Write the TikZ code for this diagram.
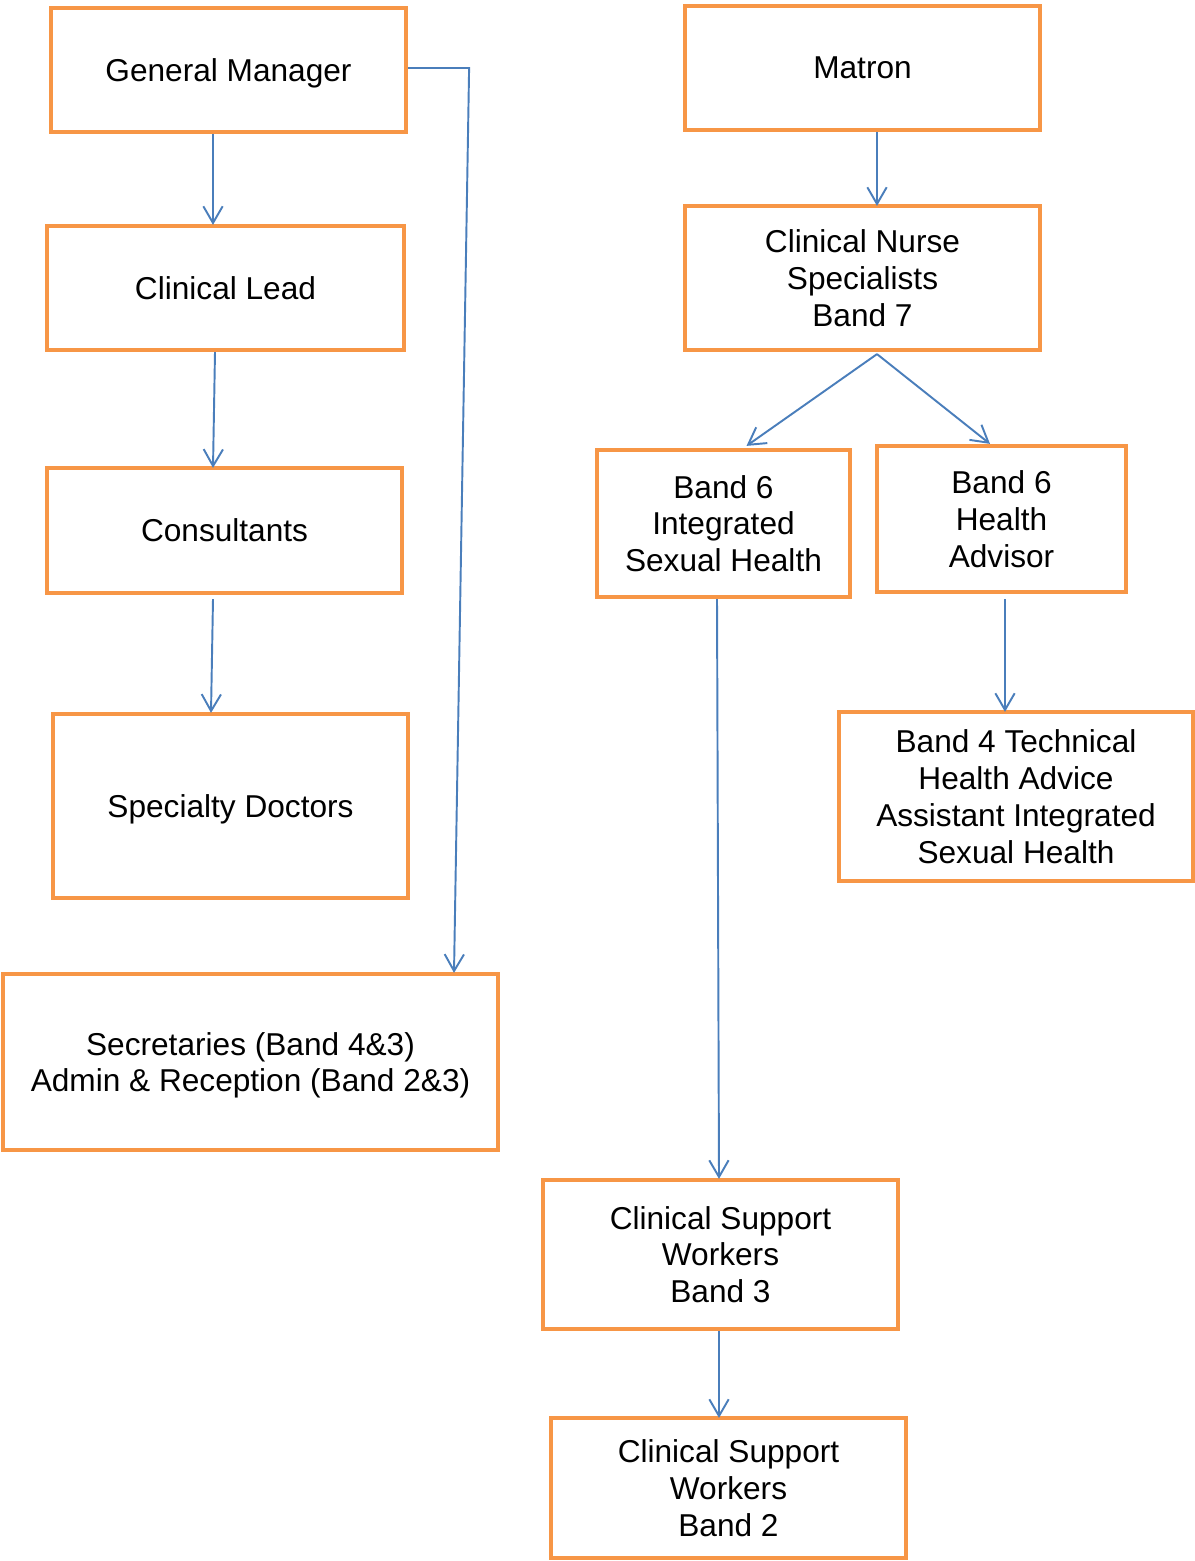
\documentclass[tikz,border=0pt]{standalone}
\usepackage{fontspec}
\setmainfont{Liberation Sans}
\usetikzlibrary{arrows.meta,calc}

\definecolor{boxorange}{HTML}{F79646}
\definecolor{linkblue}{HTML}{4A7EBB}

\tikzset{
  post/.style={draw=boxorange, line width=2.4pt, fill=white, align=center,
    inner sep=2pt, text depth=0pt, font=\fontsize{18}{21}\selectfont},
  link/.style={draw=linkblue, line width=1.1pt,
    -{Straight Barb[length=9.5pt,width=11pt,line width=1.1pt]}}
}

\begin{document}
\begin{tikzpicture}[x=0.02cm,y=-0.02cm]

\useasboundingbox (0,0) rectangle (1195,1561);

% Colonne de gauche
\node[post, minimum width=355*0.02cm, minimum height=124*0.02cm] (gm) at (228.5,70) {General Manager};
\node[post, minimum width=357*0.02cm, minimum height=124*0.02cm] (lead) at (225.5,288) {Clinical Lead};
\node[post, minimum width=355*0.02cm, minimum height=125*0.02cm] (cons) at (224.5,530.5) {Consultants};
\node[post, minimum width=355*0.02cm, minimum height=184*0.02cm] (docs) at (230.5,806) {Specialty Doctors};
\node[post, minimum width=495*0.02cm, minimum height=176*0.02cm] (secs) at (250.5,1062)
  {Secretaries (Band 4\&3)\\Admin \& Reception (Band 2\&3)};

% Colonne de droite
\node[post, minimum width=355*0.02cm, minimum height=124*0.02cm] (matron) at (862.5,68) {Matron};
\node[post, minimum width=355*0.02cm, minimum height=144*0.02cm] (cns) at (862.5,278)
  {Clinical Nurse\\Specialists\\Band 7};
\node[post, minimum width=253*0.02cm, minimum height=147*0.02cm] (ish) at (723.5,523.5)
  {Band 6\\Integrated\\Sexual Health};
\node[post, minimum width=249*0.02cm, minimum height=146*0.02cm] (advisor) at (1001.5,519)
  {Band 6\\Health\\Advisor};
\node[post, minimum width=354*0.02cm, minimum height=169*0.02cm] (tech) at (1016,796.5)
  {Band 4 Technical\\Health Advice\\Assistant Integrated\\Sexual Health};
\node[post, minimum width=355*0.02cm, minimum height=149*0.02cm] (csw3) at (720.5,1254.5)
  {Clinical Support\\Workers\\Band 3};
\node[post, minimum width=355*0.02cm, minimum height=140*0.02cm] (csw2) at (728.5,1488)
  {Clinical Support\\Workers\\Band 2};

% Liens
\draw[link] ($(gm.south)+(-15.5,0)$) -- ($(lead.north)+(-12.5,1)$);
\draw[link] ($(lead.south)+(-10.5,0)$) -- ($(cons.north)+(-11.5,2)$);
\draw[link] ($(cons.south)+(-11.5,4)$) -- ($(docs.north)+(-19.5,1)$);
\coordinate (bend) at ($(gm.east)+(61,-2)$);
\draw[link] ($(gm.east)+(0,-2)$) -- (bend) -- ($(secs.north)+(203.5,1)$);

\draw[link] ($(matron.south)+(14.5,0)$) -- ($(cns.north)+(14.5,2)$);
\coordinate (split) at ($(cns.south)+(14.5,2)$);
\draw[link] (split) -- ($(ish.north)+(23,-2)$);
\draw[link] (split) -- ($(advisor.north)+(-11.5,0)$);
\draw[link] ($(ish.south)+(-6.5,0)$) -- ($(csw3.north)+(-1.5,1)$);
\draw[link] ($(advisor.south)+(3.5,5)$) -- ($(tech.north)+(-11,2)$);
\draw[link] ($(csw3.south)+(-1.5,0)$) -- ($(csw2.north)+(-9.5,2)$);

\end{tikzpicture}
\end{document}
